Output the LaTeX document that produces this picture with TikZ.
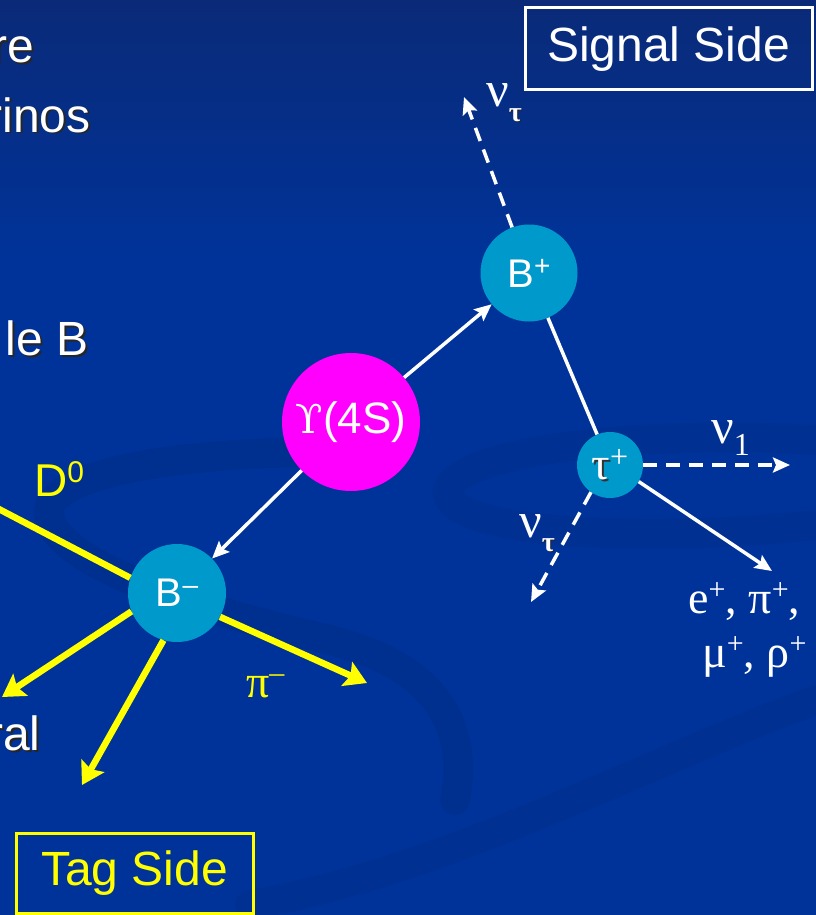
\documentclass[tikz,border=0pt]{standalone}
\usepackage{fontspec}
\setmainfont{Liberation Sans}
\newfontfamily\tms{Liberation Serif}
\newfontfamily\dvs{DejaVu Serif}
\usetikzlibrary{arrows.meta}
\definecolor{bg}{HTML}{003399}
\definecolor{bgtop}{HTML}{0A2A78}
\definecolor{swirlc}{HTML}{002A7A}
\definecolor{cyanb}{HTML}{0099CC}
\definecolor{mag}{HTML}{FF00FF}
\definecolor{yel}{HTML}{FFFF00}
\newcommand\fsz[1]{\fontsize{#1}{#1}\selectfont}
\begin{document}
\begin{tikzpicture}[x=1pt,y=-1pt,
  ball/.style={circle, fill=cyanb, inner sep=0pt, text=white},
  wline/.style={white, line width=3.5pt},
  warr/.style={wline, -{Stealth[length=17pt,width=15pt,inset=3pt]}},
  wdash/.style={white, line width=3.5pt, dash pattern=on 14pt off 9pt, -{Stealth[length=17pt,width=15pt,inset=3pt]}},
  yline/.style={yel, line width=6.5pt},
  yarr/.style={yline, -{Stealth[length=22pt,width=26pt,inset=4pt]}},
  swirl/.style={swirlc, line width=30pt, opacity=0.3, line cap=round},
  shd/.style={text=black!85},
  bigtxt/.style={font=\fsz{48}},
]
% background
\useasboundingbox (0,0) rectangle (816,915);
\fill[top color=bgtop, bottom color=bg, shading angle=0] (0,0) rectangle (816,260);
\fill[bg] (0,259) rectangle (816,915);
% faint swirls
\draw[swirl] (300,452) .. controls (180,455) and (70,470) .. (50,505) .. controls (35,560) and (200,610) .. (330,640) .. controls (430,665) and (470,720) .. (455,800);
\draw[swirl, opacity=0.22] (816,440) .. controls (640,430) and (460,450) .. (448,490) .. controls (440,530) and (620,545) .. (816,525);
\draw[swirl, opacity=0.2] (250,905) .. controls (450,870) and (650,760) .. (816,700);

% clipped left text with shadow
\node[anchor=base east, bigtxt, shd] (t1s) at (40,65) {re};
\node[anchor=base east, bigtxt, text=white] (t1) at (38,63) {re};
\node[anchor=base east, bigtxt, shd] (t2s) at (96,134) {rinos};
\node[anchor=base east, bigtxt, text=white] (t2) at (94,132) {rinos};
\node[anchor=base east, bigtxt, shd] (t3s) at (94,357) {le B};
\node[anchor=base east, bigtxt, text=white] (t3) at (92,355) {le B};
\node[anchor=base east, bigtxt, shd] (t4s) at (46,752) {ral};
\node[anchor=base east, bigtxt, text=white] (t4) at (44,750) {ral};

% boxes
\node[draw=white, line width=3pt, minimum width=287pt, minimum height=82pt, text=white, font=\fsz{48}] (sig) at (668.5,49) {Signal Side};
\node[draw=yel, line width=3pt, minimum width=237pt, minimum height=80pt, text=yel, font=\fsz{48}] (tag) at (134.5,873) {Tag Side};

% particles
\node[circle, fill=mag, inner sep=0pt, minimum size=138pt, text=white] (Y) at (351,422) {\fsz{44}{\dvs\fsz{40}ϒ}(4S)};
\node[ball, minimum size=97pt] (Bp) at (529,273) {\fsz{40}B\raisebox{12pt}{\fsz{28}+}};
\node[ball, minimum size=98pt] (Bm) at (177,593) {\fsz{40}B\raisebox{12pt}{\fsz{28}\textendash}};
\node[ball, minimum size=66pt] (tau) at (610,465) {};
\node[text=black!80] (taus) at (612,467) {\tms\fsz{46}τ\raisebox{12pt}{\fsz{32}\textcolor{cyanb}{+}}};
\node[text=white] (taut) at (610,465) {\tms\fsz{46}τ\raisebox{12pt}{\fsz{32}+}};

% free ends
\coordinate (nuTop) at (464,97);
\coordinate (nuOne) at (790,465);
\coordinate (nuBot) at (531,602);
\coordinate (lep) at (772,571);
\coordinate (dz) at (-5,507);
\coordinate (y1) at (2,697);
\coordinate (y2) at (82,785);
\coordinate (y3) at (367,683);

% white connectors
\draw[warr] (Y) -- (Bp);
\draw[warr] (Y) -- (Bm);
\draw[wline] (Bp) -- (tau);
\draw[wdash] (Bp) -- (nuTop);
\draw[wdash] (tau) -- (nuOne);
\draw[wdash] (tau.235) -- (nuBot);
\draw[warr] (tau.330) -- (lep);

% yellow connectors
\draw[yline] (dz) -- (Bm.162);
\draw[yarr] (Bm.202) -- (y1);
\draw[yarr] (Bm.254) -- (y2);
\draw[yarr] (Bm.331) -- (y3);

% labels
\node[anchor=base west, text=black!85, inner sep=0pt] (l1s) at (487,108) {\tms\fsz{50}\textcolor{bg}{ν}\raisebox{-14pt}{\bfseries\fsz{28}τ}};
\node[anchor=base west, text=white, inner sep=0pt] (l1) at (486,107) {\tms\fsz{50}ν\raisebox{-14pt}{\bfseries\fsz{28}τ}};
\node[anchor=base west, text=white, inner sep=0pt] (l2) at (711,443) {\tms\fsz{50}ν\raisebox{-12pt}{\fsz{32}1}};
\node[anchor=base west, text=black!85, inner sep=0pt] (l3s) at (520,538) {\tms\fsz{50}\textcolor{bg}{ν}\raisebox{-14pt}{\bfseries\fsz{28}τ}};
\node[anchor=base west, text=white, inner sep=0pt] (l3) at (519,537) {\tms\fsz{50}ν\raisebox{-14pt}{\bfseries\fsz{28}τ}};
\node[anchor=base west, text=white, inner sep=0pt] (l4) at (688,613) {\tms\fsz{46}e\raisebox{14pt}{\fsz{30}+}, π\raisebox{14pt}{\fsz{30}+},};
\node[anchor=base west, text=white, inner sep=0pt] (l5) at (702,667) {\tms\fsz{46}μ\raisebox{14pt}{\fsz{30}+}, ρ\raisebox{14pt}{\fsz{30}+}};
\node[anchor=base west, text=yel, inner sep=0pt] (l6) at (246,697) {\tms\fsz{46}π\raisebox{15pt}{\fsz{30}\textendash}};
\node[anchor=base west, text=yel, inner sep=0pt] (l7) at (34,496) {\fsz{46}D\raisebox{14pt}{\fsz{30}0}};
\end{tikzpicture}
\end{document}
